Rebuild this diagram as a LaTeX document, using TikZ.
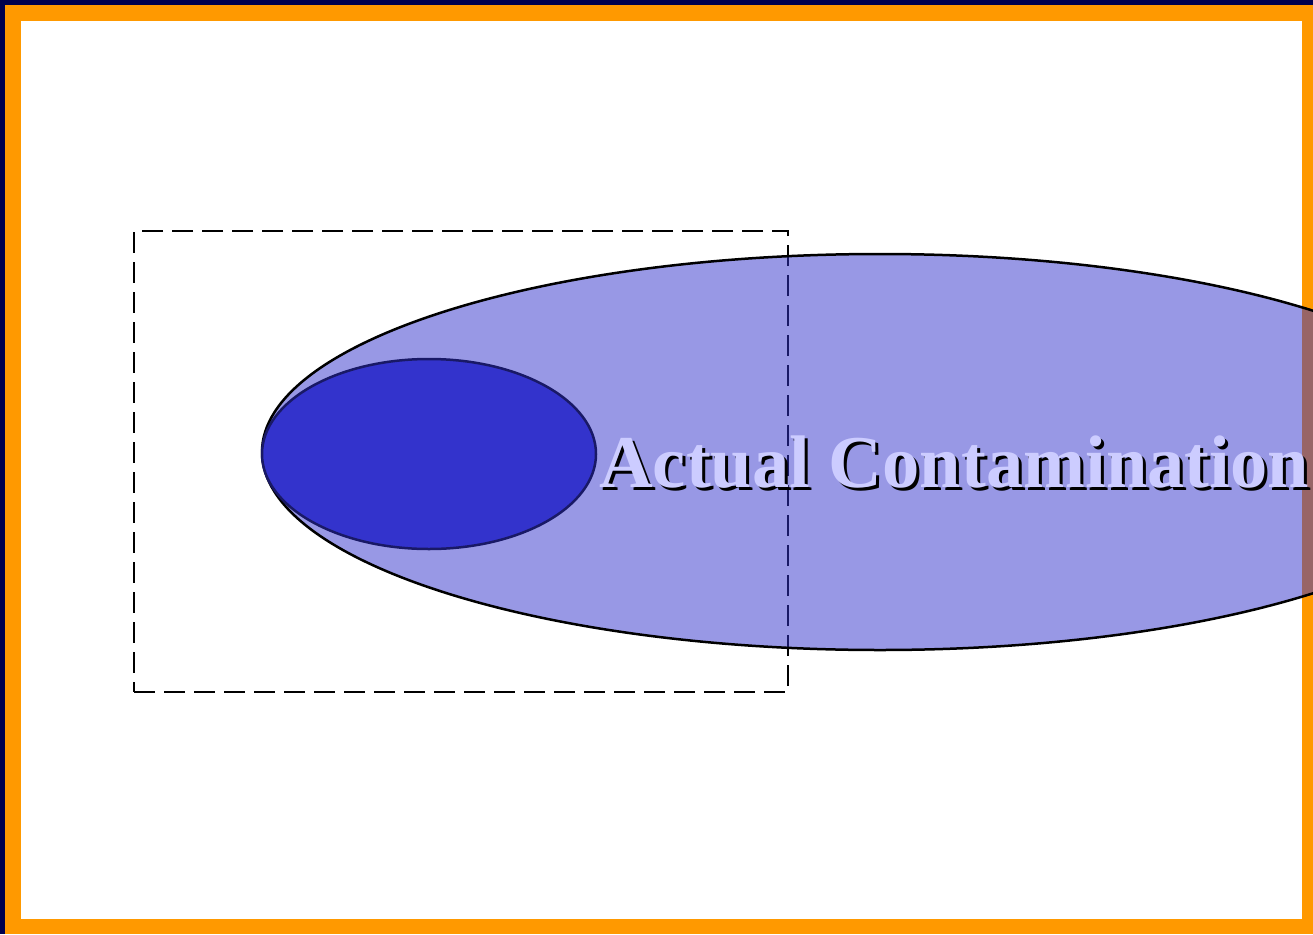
\documentclass[tikz,border=0pt]{standalone}
\usepackage{fontspec}
\setmainfont{Liberation Serif}
\usetikzlibrary{shapes.geometric}
\definecolor{navyedge}{RGB}{0,0,77}
\definecolor{framecol}{RGB}{255,153,0}
\definecolor{plume}{RGB}{51,51,204}
\definecolor{lav}{RGB}{204,204,255}
\definecolor{inkline}{RGB}{25,25,102}
\tikzset{
  bigplume/.style={ellipse, draw=black, line width=2.5pt, fill=plume, fill opacity=0.5, draw opacity=1, inner sep=0pt},
  coreplume/.style={ellipse, draw=inkline, line width=2.5pt, fill=plume, inner sep=0pt},
  boxdash/.style={draw=black, line width=2.5pt, dash pattern=on 21pt off 9pt},
  labeltxt/.style={anchor=base west, inner sep=0pt, font=\bfseries\fontsize{74.5}{74.5}\selectfont}
}
\begin{document}
\begin{tikzpicture}[x=1pt,y=-1pt]
\useasboundingbox (0,0) rectangle (1313,934);
\clip (0,0) rectangle (1313,934);
\fill[navyedge] (0,0) rectangle (1313,934);
\fill[framecol] (5,5) rectangle (1313,934);
\fill[white] (21,21) rectangle (1302,919);
\node[boxdash, minimum width=654pt, minimum height=461pt, inner sep=0pt] (zone) at (461,461.5) {};
\node[bigplume, minimum width=1236pt, minimum height=396pt] (actual) at (880,452) {};
\node[coreplume, minimum width=334pt, minimum height=190pt] (core) at (429,454) {};
\node[labeltxt, text=black] (shadow) at (602,490) {Actual Contamination};
\node[labeltxt, text=lav] (label) at (599,487) {Actual Contamination};
\end{tikzpicture}
\end{document}
